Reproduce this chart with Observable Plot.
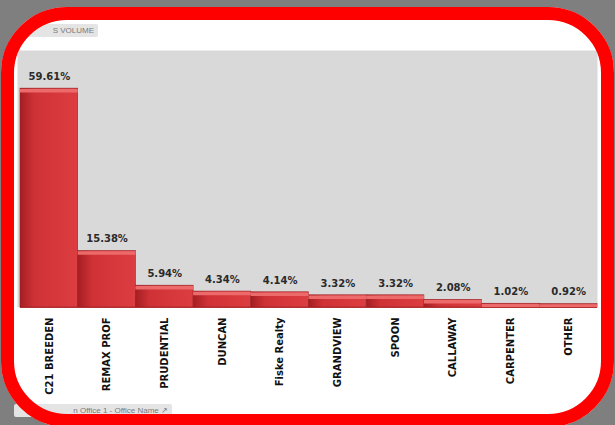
<!DOCTYPE html>
<html>
<head>
<meta charset="utf-8">
<script src="https://cdn.jsdelivr.net/npm/d3@7"></script>
<script src="https://cdn.jsdelivr.net/npm/@observablehq/plot@0.6"></script>
<style>
  html, body { margin: 0; padding: 0; }
  body { width: 615px; height: 425px; background: #7f7f7f; position: relative; overflow: hidden; font-family: "DejaVu Sans", Verdana, sans-serif; }
  #inner { position: absolute; left: 1px; top: 7px; width: 613px; height: 420px; background: #fff; border-radius: 66px; }
  #frameBorder { position: absolute; left: 1px; top: 7px; width: 613px; height: 420px; box-sizing: border-box; border: 13px solid #ff0000; border-radius: 66px; z-index: 5; }
  .field { position: absolute; background: #e4e4e4; color: #7a7a7a; font-size: 8px; line-height: 13px; padding: 0 4px; border-radius: 2px; white-space: nowrap; font-family: "Liberation Sans", Arial, sans-serif; }
  #chart { position: absolute; left: 0; top: 0; z-index: 2; }
</style>
</head>
<body>
<div id="inner"></div>
<div class="field" style="left:26px; top:24px; width:64px; text-align:right;">S VOLUME</div>
<div class="field" style="left:14px; top:404px; width:150px; text-align:right;">n Office 1 - Office Name &#x2197;</div>
<svg width="0" height="0" style="position:absolute">
  <defs>
    <linearGradient id="barGrad" x1="0" y1="0" x2="1" y2="0">
      <stop offset="0" stop-color="#a41e22"/>
      <stop offset="0.25" stop-color="#cf3236"/>
      <stop offset="1" stop-color="#dc3d41"/>
    </linearGradient>
  </defs>
</svg>
<div id="chart"></div>
<div id="frameBorder"></div>
<script>
const categories = ["C21 BREEDEN", "REMAX PROF", "PRUDENTIAL", "DUNCAN", "Fiske Realty", "GRANDVIEW", "SPOON", "CALLAWAY", "CARPENTER", "OTHER"];
const values = [59.61, 15.38, 5.94, 4.34, 4.14, 3.32, 3.32, 2.08, 1.02, 0.92];

const data = categories.map((c, i) => ({ name: c, value: values[i] }));

const chart = Plot.plot({
  width: 615,
  height: 425,
  marginLeft: 20,
  marginRight: 18,
  marginTop: 50,
  marginBottom: 118,
  style: { background: "transparent", fontFamily: "DejaVu Sans, Verdana, sans-serif" },
  x: { domain: categories, padding: 0, round: false, label: null },
  y: { domain: [0, 70], axis: null },
  marks: [
    Plot.frame({ fill: "#d9d9d9", stroke: null, insetLeft: -3 }),
    Plot.barY(data, { x: "name", y: "value", fill: "url(#barGrad)", stroke: "#9c2024", strokeWidth: 0.6 }),
    Plot.tickY(data, { x: "name", y: "value", stroke: "#ec6a6a", strokeWidth: 3.5, dy: 2 }),
    Plot.ruleY([0], { stroke: "#b03034", strokeWidth: 1.2 }),
    Plot.text(data, { x: "name", y: "value", text: d => d.value.toFixed(2) + "%", dy: -12, fontWeight: "bold", fontSize: 10, fill: "#2a2a2a" }),
    Plot.axisX({ tickRotate: -90, tickSize: 0, tickPadding: 10, fontWeight: "bold", fontSize: 10, fill: "#111", label: null })
  ]
});
document.getElementById("chart").appendChild(chart);
</script>
</body>
</html>
